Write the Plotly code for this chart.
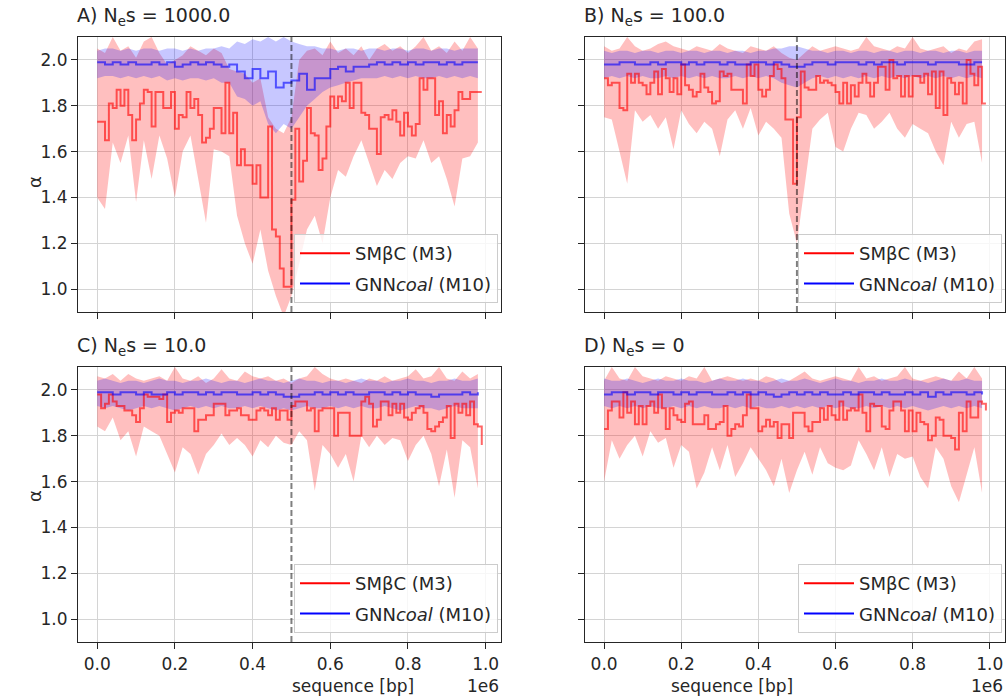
import plotly.graph_objects as go
from plotly.subplots import make_subplots

# ---- data -------------------------------------------------------------
# sequence positions [bp]: red means every 10 kb, bands / blue every 20 kb
pos_fine = [i * 10000 for i in range(100)]
pos_band = [i * 20000 for i in range(50)]

titles = ["A) N<sub>e</sub>s = 1000.0", "B) N<sub>e</sub>s = 100.0",
          "C) N<sub>e</sub>s = 10.0", "D) N<sub>e</sub>s = 0"]
sweep_pos = [500000, 500000, 500000, None]

smbc_mean_A = [1.73, 1.73, 1.65, 1.81, 1.79, 1.87, 1.80, 1.87, 1.76, 1.65,
               1.74, 1.81, 1.87, 1.86, 1.71, 1.86, 1.86, 1.79, 1.79, 1.86,
               1.70, 1.76, 1.75, 1.86, 1.79, 1.83, 1.76, 1.64, 1.66, 1.70,
               1.79, 1.79, 1.68, 1.90, 1.68, 1.77, 1.54, 1.61, 1.54, 1.54,
               1.46, 1.54, 1.40, 1.40, 1.71, 1.26, 1.23, 1.09, 1.01, 1.01,
               1.39, 1.70, 1.47, 1.56, 1.79, 1.68, 1.67, 1.52, 1.57, 1.71,
               1.84, 1.79, 1.84, 1.82, 1.90, 1.79, 1.90, 1.90, 1.77, 1.76,
               1.70, 1.70, 1.59, 1.75, 1.76, 1.74, 1.78, 1.73, 1.67, 1.77,
               1.71, 1.67, 1.72, 1.92, 1.87, 1.92, 1.92, 1.76, 1.82, 1.68,
               1.76, 1.71, 1.78, 1.86, 1.83, 1.83, 1.86, 1.86, 1.86, 1.86]
smbc_lo_A = [1.40, 1.35, 1.64, 1.55, 1.67, 1.38, 1.65, 1.48, 1.67, 1.57,
             1.40, 1.60, 1.67, 1.48, 1.29, 1.61, 1.60, 1.58, 1.32, 1.20,
             1.11, 1.26, 1.08, 0.97, 0.88, 0.97, 1.11, 1.26, 1.32, 1.20,
             1.40, 1.52, 1.49, 1.58, 1.65, 1.55, 1.45, 1.52, 1.48, 1.55,
             1.58, 1.57, 1.65, 1.55, 1.58, 1.48, 1.36, 1.57, 1.58, 1.64]
smbc_hi_A = [2.05, 2.03, 2.10, 2.04, 2.06, 2.01, 2.08, 2.10, 2.03, 1.98,
             2.00, 2.02, 2.06, 2.04, 2.02, 2.05, 2.03, 1.96, 1.95, 1.94,
             1.90, 1.92, 1.75, 1.70, 1.68, 1.75, 2.00, 2.04, 2.05, 2.02,
             2.08, 2.03, 2.05, 2.02, 2.06, 2.00, 2.05, 2.07, 2.04, 2.06,
             2.03, 2.06, 2.10, 2.04, 2.06, 2.03, 2.08, 2.04, 2.10, 2.05]
gnn_mean_A = [1.99, 1.98, 1.99, 1.98, 1.99, 1.98, 1.98, 1.99, 1.98, 1.99,
              1.97, 1.98, 1.99, 1.98, 1.99, 1.98, 1.97, 1.98, 1.95, 1.92,
              1.96, 1.92, 1.95, 1.88, 1.90, 1.91, 1.94, 1.87, 1.92, 1.92,
              1.96, 1.97, 1.95, 1.97, 1.97, 1.98, 1.99, 1.98, 1.99, 1.98,
              1.99, 1.98, 1.99, 1.99, 1.98, 1.99, 1.98, 1.99, 1.99, 1.99]
gnn_lo_A = [1.92, 1.93, 1.93, 1.92, 1.93, 1.92, 1.93, 1.92, 1.93, 1.91,
            1.92, 1.91, 1.92, 1.92, 1.91, 1.92, 1.90, 1.90, 1.84, 1.83,
            1.80, 1.82, 1.72, 1.68, 1.72, 1.70, 1.75, 1.80, 1.83, 1.86,
            1.88, 1.89, 1.90, 1.91, 1.92, 1.92, 1.92, 1.93, 1.92, 1.93,
            1.92, 1.93, 1.92, 1.92, 1.93, 1.92, 1.93, 1.92, 1.93, 1.92]
gnn_hi_A = [2.04, 2.05, 2.05, 2.04, 2.05, 2.04, 2.05, 2.05, 2.04, 2.05,
            2.05, 2.04, 2.05, 2.04, 2.05, 2.05, 2.06, 2.05, 2.08, 2.07,
            2.09, 2.08, 2.10, 2.08, 2.10, 2.08, 2.07, 2.06, 2.06, 2.05,
            2.05, 2.04, 2.05, 2.05, 2.04, 2.05, 2.05, 2.04, 2.05, 2.05,
            2.04, 2.05, 2.05, 2.04, 2.05, 2.05, 2.04, 2.05, 2.05, 2.05]

smbc_mean_B = [1.92, 1.89, 1.90, 1.90, 1.79, 1.78, 1.94, 1.90, 1.94, 1.90,
               1.89, 1.85, 1.90, 1.95, 1.85, 1.96, 1.92, 1.86, 1.92, 1.85,
               1.98, 1.89, 1.87, 1.84, 1.86, 1.94, 1.88, 1.86, 1.81, 1.82,
               1.95, 1.93, 1.94, 1.87, 1.87, 1.87, 1.81, 1.98, 1.93, 1.98,
               1.87, 1.84, 1.87, 1.93, 1.98, 1.96, 1.92, 1.74, 1.74, 1.46,
               1.75, 1.95, 1.88, 1.87, 1.87, 1.93, 1.90, 1.91, 1.90, 1.89,
               1.86, 1.81, 1.90, 1.81, 1.89, 1.84, 1.90, 1.94, 1.90, 1.84,
               1.90, 1.97, 1.97, 1.87, 2.00, 1.92, 1.93, 1.84, 1.93, 1.84,
               1.93, 1.93, 1.90, 1.94, 1.85, 1.95, 1.79, 1.95, 1.76, 1.92,
               1.90, 1.85, 1.90, 1.81, 2.00, 1.94, 1.89, 1.97, 1.81, 1.81]
smbc_lo_B = [1.75, 1.74, 1.60, 1.46, 1.78, 1.73, 1.76, 1.70, 1.75, 1.61,
             1.78, 1.72, 1.68, 1.73, 1.70, 1.58, 1.74, 1.78, 1.70, 1.79,
             1.67, 1.73, 1.70, 1.66, 1.33, 1.20, 1.45, 1.70, 1.74, 1.77,
             1.62, 1.60, 1.70, 1.77, 1.76, 1.70, 1.73, 1.77, 1.70, 1.66,
             1.72, 1.70, 1.68, 1.60, 1.54, 1.73, 1.66, 1.72, 1.73, 1.55]
smbc_hi_B = [2.06, 2.04, 2.05, 2.10, 2.06, 2.04, 2.05, 2.07, 2.08, 2.06,
             2.05, 2.04, 2.06, 2.05, 2.04, 2.07, 2.05, 2.04, 2.03, 2.06,
             2.05, 2.04, 2.06, 2.03, 2.01, 2.00, 2.03, 2.06, 2.04, 2.05,
             2.06, 2.05, 2.04, 2.05, 2.10, 2.06, 2.05, 2.04, 2.06, 2.05,
             2.10, 2.05, 2.04, 2.05, 2.06, 2.03, 2.05, 2.04, 2.08, 2.09]
gnn_mean_B = [1.98, 1.98, 1.99, 1.99, 1.98, 1.98, 1.99, 1.98, 1.99, 1.99,
              1.98, 1.99, 1.98, 1.99, 1.99, 1.98, 1.99, 1.98, 1.98, 1.99,
              1.99, 1.98, 1.99, 1.98, 1.97, 1.97, 1.98, 1.99, 1.99, 1.98,
              1.99, 1.99, 1.99, 1.98, 1.99, 1.98, 1.99, 1.99, 1.98, 1.99,
              1.99, 1.99, 1.98, 1.99, 1.99, 1.99, 1.98, 1.98, 1.99, 1.99]
gnn_lo_B = [1.92, 1.93, 1.92, 1.93, 1.92, 1.93, 1.92, 1.92, 1.93, 1.92,
            1.93, 1.92, 1.93, 1.92, 1.93, 1.92, 1.92, 1.93, 1.92, 1.93,
            1.92, 1.93, 1.92, 1.90, 1.89, 1.88, 1.90, 1.92, 1.93, 1.92,
            1.93, 1.92, 1.93, 1.92, 1.93, 1.92, 1.93, 1.92, 1.93, 1.92,
            1.93, 1.92, 1.93, 1.92, 1.93, 1.92, 1.93, 1.92, 1.93, 1.92]
gnn_hi_B = [2.04, 2.03, 2.04, 2.04, 2.03, 2.04, 2.04, 2.03, 2.04, 2.04,
            2.03, 2.04, 2.04, 2.03, 2.04, 2.04, 2.03, 2.04, 2.04, 2.03,
            2.04, 2.04, 2.05, 2.05, 2.06, 2.06, 2.05, 2.04, 2.04, 2.03,
            2.04, 2.04, 2.03, 2.04, 2.04, 2.03, 2.04, 2.04, 2.03, 2.04,
            2.04, 2.03, 2.04, 2.04, 2.03, 2.04, 2.04, 2.03, 2.04, 2.04]

smbc_mean_C = [1.98, 1.92, 1.94, 1.98, 1.95, 1.93, 1.93, 1.91, 1.91, 1.89,
               1.86, 1.92, 1.98, 1.97, 1.97, 1.97, 1.96, 1.98, 1.86, 1.90,
               1.91, 1.90, 1.92, 1.92, 1.92, 1.82, 1.87, 1.87, 1.89, 1.89,
               1.94, 1.94, 1.94, 1.89, 1.91, 1.91, 1.92, 1.89, 1.89, 1.87,
               1.87, 1.91, 1.92, 1.91, 1.89, 1.92, 1.87, 1.91, 1.91, 1.87,
               1.93, 1.95, 1.95, 1.95, 1.91, 1.92, 1.82, 1.91, 1.92, 1.92,
               1.92, 1.80, 1.90, 1.90, 1.90, 1.80, 1.80, 1.80, 1.95, 1.97,
               1.94, 1.84, 1.87, 1.95, 1.95, 1.89, 1.94, 1.90, 1.94, 1.88,
               1.87, 1.90, 1.92, 1.93, 1.90, 1.83, 1.82, 1.84, 1.86, 1.88,
               1.93, 1.79, 1.94, 1.90, 1.94, 1.89, 1.95, 1.85, 1.84, 1.76]
smbc_lo_C = [1.84, 1.82, 1.88, 1.78, 1.82, 1.71, 1.84, 1.82, 1.80, 1.72,
             1.64, 1.75, 1.72, 1.63, 1.72, 1.76, 1.81, 1.76, 1.79, 1.76,
             1.71, 1.78, 1.75, 1.80, 1.77, 1.76, 1.82, 1.78, 1.56, 1.76,
             1.72, 1.66, 1.72, 1.60, 1.80, 1.75, 1.80, 1.76, 1.79, 1.78,
             1.69, 1.76, 1.80, 1.72, 1.58, 1.74, 1.53, 1.78, 1.75, 1.57]
smbc_hi_C = [2.06, 2.05, 2.07, 2.04, 2.07, 2.05, 2.04, 2.05, 2.06, 2.04,
             2.10, 2.05, 2.04, 2.06, 2.03, 2.05, 2.09, 2.05, 2.04, 2.08,
             2.06, 2.05, 2.06, 2.04, 2.05, 2.03, 2.05, 2.06, 2.10, 2.07,
             2.05, 2.04, 2.05, 2.04, 2.03, 2.05, 2.04, 2.06, 2.04, 2.05,
             2.06, 2.09, 2.05, 2.06, 2.10, 2.05, 2.04, 2.08, 2.05, 2.07]
gnn_mean_C = [1.99, 1.99, 1.98, 1.99, 1.99, 1.98, 1.99, 1.98, 1.98, 1.99,
              1.98, 1.99, 1.99, 1.98, 1.99, 1.98, 1.99, 1.99, 1.98, 1.98,
              1.99, 1.98, 1.99, 1.98, 1.97, 1.97, 1.98, 1.98, 1.99, 1.98,
              1.99, 1.98, 1.99, 1.98, 1.98, 1.99, 1.99, 1.98, 1.99, 1.98,
              1.99, 1.98, 1.98, 1.97, 1.98, 1.98, 1.98, 1.99, 1.98, 1.99]
gnn_lo_C = [1.93, 1.92, 1.93, 1.92, 1.91, 1.92, 1.93, 1.92, 1.93, 1.92,
            1.91, 1.92, 1.93, 1.92, 1.93, 1.92, 1.93, 1.92, 1.92, 1.93,
            1.92, 1.93, 1.92, 1.91, 1.92, 1.91, 1.92, 1.93, 1.92, 1.92,
            1.93, 1.92, 1.93, 1.92, 1.93, 1.92, 1.92, 1.93, 1.92, 1.91,
            1.92, 1.93, 1.92, 1.92, 1.91, 1.92, 1.93, 1.92, 1.92, 1.92]
gnn_hi_C = [2.04, 2.05, 2.04, 2.03, 2.04, 2.04, 2.03, 2.04, 2.05, 2.04,
            2.04, 2.03, 2.04, 2.04, 2.05, 2.04, 2.03, 2.04, 2.04, 2.03,
            2.04, 2.05, 2.04, 2.04, 2.03, 2.04, 2.05, 2.04, 2.04, 2.03,
            2.04, 2.04, 2.03, 2.04, 2.05, 2.04, 2.04, 2.03, 2.04, 2.04,
            2.05, 2.04, 2.04, 2.03, 2.04, 2.04, 2.05, 2.04, 2.04, 2.05]

smbc_mean_D = [1.83, 1.91, 1.95, 1.95, 1.88, 1.99, 1.90, 1.95, 1.85, 1.93,
               1.85, 1.93, 1.95, 1.90, 1.98, 1.92, 1.83, 1.92, 1.89, 1.87,
               1.86, 1.94, 1.95, 1.85, 1.85, 1.85, 1.89, 1.83, 1.83, 1.85,
               1.86, 1.93, 1.80, 1.83, 1.85, 1.84, 1.89, 1.98, 1.92, 1.92,
               1.82, 1.84, 1.87, 1.84, 1.86, 1.79, 1.85, 1.85, 1.79, 1.90,
               1.90, 1.90, 1.84, 1.82, 1.86, 1.86, 1.92, 1.87, 1.93, 1.89,
               1.87, 1.95, 1.87, 1.91, 1.92, 1.91, 1.98, 1.90, 1.82, 1.94,
               1.93, 1.93, 1.84, 1.83, 1.91, 1.95, 1.95, 1.91, 1.82, 1.91,
               1.82, 1.90, 1.86, 1.85, 1.78, 1.80, 1.88, 1.87, 1.80, 1.80,
               1.79, 1.74, 1.90, 1.82, 1.95, 1.88, 1.88, 1.95, 1.94, 1.91]
smbc_lo_D = [1.60, 1.78, 1.70, 1.76, 1.80, 1.71, 1.82, 1.77, 1.79, 1.66,
             1.76, 1.73, 1.57, 1.64, 1.75, 1.65, 1.76, 1.62, 1.68, 1.75,
             1.70, 1.65, 1.58, 1.70, 1.55, 1.65, 1.73, 1.63, 1.75, 1.68,
             1.66, 1.65, 1.67, 1.78, 1.72, 1.65, 1.75, 1.62, 1.72, 1.70,
             1.71, 1.62, 1.57, 1.75, 1.70, 1.58, 1.51, 1.63, 1.75, 1.55]
smbc_hi_D = [2.04, 2.10, 2.05, 2.04, 2.10, 2.06, 2.05, 2.04, 2.06, 2.05,
             2.04, 2.06, 2.05, 2.10, 2.04, 2.05, 2.06, 2.05, 2.04, 2.05,
             2.04, 2.06, 2.05, 2.03, 2.04, 2.06, 2.08, 2.05, 2.04, 2.05,
             2.06, 2.05, 2.04, 2.10, 2.05, 2.06, 2.04, 2.05, 2.06, 2.10,
             2.05, 2.04, 2.05, 2.06, 2.05, 2.04, 2.08, 2.05, 2.10, 2.05]
gnn_mean_D = [1.98, 1.99, 1.99, 1.98, 1.99, 1.99, 1.98, 1.99, 1.99, 1.98,
              1.99, 1.98, 1.99, 1.99, 1.98, 1.98, 1.99, 1.98, 1.99, 1.98,
              1.99, 1.98, 1.97, 1.98, 1.99, 1.98, 1.99, 1.98, 1.99, 1.98,
              1.98, 1.99, 1.98, 1.99, 1.99, 1.98, 1.99, 1.98, 1.98, 1.99,
              1.98, 1.99, 1.97, 1.99, 1.98, 1.99, 1.99, 1.98, 1.99, 1.98]
gnn_lo_D = [1.93, 1.92, 1.93, 1.92, 1.93, 1.92, 1.93, 1.92, 1.92, 1.93,
            1.92, 1.93, 1.92, 1.93, 1.92, 1.92, 1.93, 1.92, 1.93, 1.92,
            1.93, 1.92, 1.92, 1.93, 1.92, 1.93, 1.92, 1.93, 1.92, 1.93,
            1.92, 1.93, 1.92, 1.92, 1.93, 1.92, 1.93, 1.92, 1.93, 1.92,
            1.93, 1.92, 1.91, 1.92, 1.93, 1.92, 1.93, 1.92, 1.93, 1.92]
gnn_hi_D = [2.05, 2.04, 2.04, 2.05, 2.04, 2.03, 2.04, 2.05, 2.04, 2.04,
            2.05, 2.04, 2.04, 2.03, 2.04, 2.05, 2.04, 2.04, 2.05, 2.04,
            2.04, 2.03, 2.04, 2.05, 2.04, 2.04, 2.05, 2.04, 2.03, 2.04,
            2.05, 2.04, 2.04, 2.03, 2.04, 2.04, 2.05, 2.04, 2.04, 2.05,
            2.04, 2.04, 2.03, 2.04, 2.05, 2.04, 2.04, 2.05, 2.04, 2.04]

panels = [
    (smbc_mean_A, smbc_lo_A, smbc_hi_A, gnn_mean_A, gnn_lo_A, gnn_hi_A),
    (smbc_mean_B, smbc_lo_B, smbc_hi_B, gnn_mean_B, gnn_lo_B, gnn_hi_B),
    (smbc_mean_C, smbc_lo_C, smbc_hi_C, gnn_mean_C, gnn_lo_C, gnn_hi_C),
    (smbc_mean_D, smbc_lo_D, smbc_hi_D, gnn_mean_D, gnn_lo_D, gnn_hi_D),
]

x_ticks = [0, 200000, 400000, 600000, 800000, 1000000]
x_tick_text = ["0.0", "0.2", "0.4", "0.6", "0.8", "1.0"]
y_ticks = [1.0, 1.2, 1.4, 1.6, 1.8, 2.0]

# ---- figure -----------------------------------------------------------
W, H = 1008, 698
FONT = "DejaVu Sans"
INK = "#262626"

# panel frames in pixels (left, right, top, bottom)
frames = [(78, 501, 37, 312), (585, 1005, 37, 312),
          (78, 501, 367, 642), (585, 1005, 367, 642)]

fig = make_subplots(rows=2, cols=2)
cells = [(1, 1), (1, 2), (2, 1), (2, 2)]
legend_ids = ["legend", "legend2", "legend3", "legend4"]


def band(x, lo, hi):
    return x + x[::-1], hi + lo[::-1]


for k, (sm, sl, sh, gm, gl, gh) in enumerate(panels):
    r, c = cells[k]
    bx, by = band(pos_band, sl, sh)
    fig.add_trace(go.Scatter(x=bx, y=by, fill="toself", mode="none",
                             fillcolor="rgba(255,0,0,0.25)", showlegend=False,
                             hoverinfo="skip"), row=r, col=c)
    bx, by = band(pos_band, gl, gh)
    fig.add_trace(go.Scatter(x=bx, y=by, fill="toself", mode="none",
                             fillcolor="rgba(0,0,255,0.22)", showlegend=False,
                             hoverinfo="skip"), row=r, col=c)
    fig.add_trace(go.Scatter(x=pos_fine, y=sm, mode="lines", line_shape="hv",
                             line=dict(color="rgba(255,0,0,0.6)", width=2),
                             showlegend=False), row=r, col=c)
    fig.add_trace(go.Scatter(x=pos_band, y=gm, mode="lines", line_shape="hv",
                             line=dict(color="rgba(0,0,255,0.6)", width=2),
                             showlegend=False), row=r, col=c)
    # legend entries
    fig.add_trace(go.Scatter(x=[None], y=[None], mode="lines",
                             line=dict(color="red", width=2),
                             name="SMβC (M3)", legend=legend_ids[k],
                             legendgroup=f"s{k}"), row=r, col=c)
    fig.add_trace(go.Scatter(x=[None], y=[None], mode="lines",
                             line=dict(color="blue", width=2),
                             name="GNN<i>coal</i> (M10)", legend=legend_ids[k],
                             legendgroup=f"g{k}"), row=r, col=c)

    l, rr, t, b = frames[k]
    dom_x = [l / W, rr / W]
    dom_y = [(H - b) / H, (H - t) / H]
    bottom = k >= 2
    left = k % 2 == 0
    fig.update_xaxes(domain=dom_x, range=[-49500, 1039500],
                     tickvals=x_ticks, ticktext=x_tick_text,
                     showticklabels=bottom, row=r, col=c)
    fig.update_yaxes(domain=dom_y, range=[0.9, 2.1], tickvals=y_ticks,
                     tickformat=".1f", showticklabels=left, row=r, col=c)

    if sweep_pos[k] is not None:
        fig.add_shape(type="line", x0=sweep_pos[k], x1=sweep_pos[k],
                      y0=0, y1=1, xref="x" if k == 0 else f"x{k + 1}",
                      yref=("y" if k == 0 else f"y{k + 1}") + " domain",
                      line=dict(color="rgba(0,0,0,0.5)", width=2,
                                dash="6px,3px"))

    # panel title
    fig.add_annotation(text=titles[k], xref="paper", yref="paper",
                       x=(l - 3) / W, y=(H - t + 6) / H, xanchor="left",
                       yanchor="bottom", showarrow=False,
                       font=dict(size=19, color=INK, family=FONT))

    fig.update_layout({legend_ids[k]: dict(
        x=(rr - 3) / W, y=(H - b + 9) / H, xanchor="right", yanchor="bottom",
        bgcolor="rgba(255,255,255,0.8)", bordercolor="#cccccc", borderwidth=1,
        font=dict(size=18, color=INK, family=FONT), traceorder="grouped",
        tracegroupgap=4, itemwidth=50)})

    if left:
        fig.add_annotation(text="α", xref="paper", yref="paper",
                           x=22 / W, y=(H - (t + b) / 2) / H, textangle=-90,
                           showarrow=False,
                           font=dict(size=18, color=INK, family=FONT))
    if bottom:
        fig.add_annotation(text="sequence [bp]", xref="paper", yref="paper",
                           x=(l + rr) / 2 / W, y=(H - 686) / H,
                           yanchor="middle", showarrow=False,
                           font=dict(size=17, color=INK, family=FONT))
        fig.add_annotation(text="1e6", xref="paper", yref="paper",
                           x=rr / W, y=(H - 686) / H, xanchor="right",
                           yanchor="middle", showarrow=False,
                           font=dict(size=17, color=INK, family=FONT))

fig.update_xaxes(showgrid=True, gridcolor="#d4d4d4", gridwidth=1,
                 zeroline=False, showline=True, mirror=True, linecolor=INK,
                 linewidth=1.25, ticks="outside", ticklen=6, tickwidth=1.25,
                 tickcolor=INK, tickfont=dict(size=17, color=INK, family=FONT))
fig.update_yaxes(showgrid=True, gridcolor="#d4d4d4", gridwidth=1,
                 zeroline=False, showline=True, mirror=True, linecolor=INK,
                 linewidth=1.25, ticks="outside", ticklen=6, tickwidth=1.25,
                 tickcolor=INK, tickfont=dict(size=17, color=INK, family=FONT))

fig.update_layout(width=W, height=H, margin=dict(l=0, r=0, t=0, b=0),
                  paper_bgcolor="white", plot_bgcolor="white",
                  font=dict(family=FONT, color=INK), showlegend=True)

fig.write_html("out.html", config={"displayModeBar": False},
               post_script="document.body.style.margin='0';"
                           "document.body.style.overflow='hidden';")
